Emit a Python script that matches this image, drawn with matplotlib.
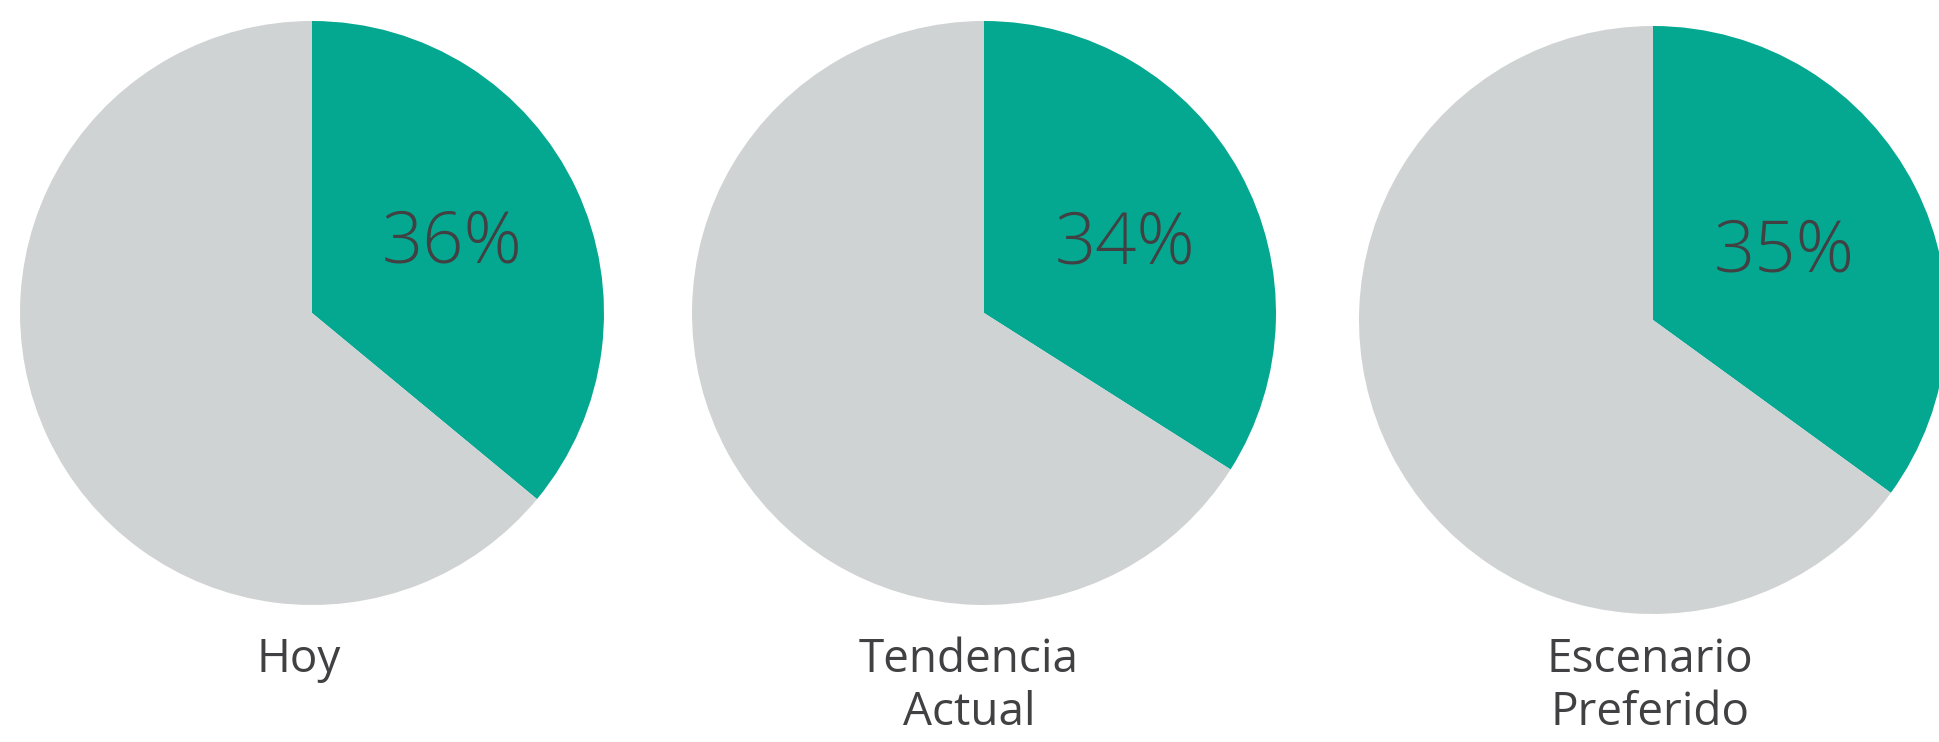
import matplotlib
matplotlib.use('Agg')
import matplotlib.pyplot as plt

# data
labels = ['Hoy', 'Tendencia\nActual', 'Escenario\nPreferido']
shares = [36, 34, 35]

# layout (pixels, from top-left of a 1940x742 canvas)
W, H = 1940, 742
centers_x = [312, 984, 1653]
centers_y = [313, 313, 320]
radii = [292, 292, 294]
pct_x = [452, 1125, 1784]        # centre of the % text
pct_base = [262, 263, 272]       # baseline of the % text
label_x = [299, 969, 1650]
label_top = 637

teal = '#04A890'
grey = '#D0D3D4'
txt = '#414042'

plt.rcParams['font.family'] = ['Open Sans', 'DejaVu Sans']

fig = plt.figure(figsize=(W / 100, H / 100), dpi=100)
fig.patch.set_facecolor('white')

for i in range(len(shares)):
    cx, cy, r = centers_x[i], centers_y[i], radii[i]
    ax = fig.add_axes([(cx - r) / W, (H - cy - r) / H, 2 * r / W, 2 * r / H])
    ax.pie([shares[i], 100 - shares[i]], colors=[teal, grey], startangle=90,
           counterclock=False, radius=1, wedgeprops=dict(linewidth=0))
    ax.set_xlim(-1, 1)
    ax.set_ylim(-1, 1)
    ax.set_aspect('equal')
    ax.axis('off')
    ax.text((pct_x[i] - cx) / r, (cy - pct_base[i]) / r, f'{shares[i]}%',
            ha='center', va='baseline', fontsize=52, color=txt,
            fontweight='light')
    fig.text(label_x[i] / W, (H - label_top) / H, labels[i], ha='center',
             va='top', fontsize=33, color=txt, linespacing=1.2,
             multialignment='center')

fig.savefig('out.png', dpi=100, facecolor='white')
